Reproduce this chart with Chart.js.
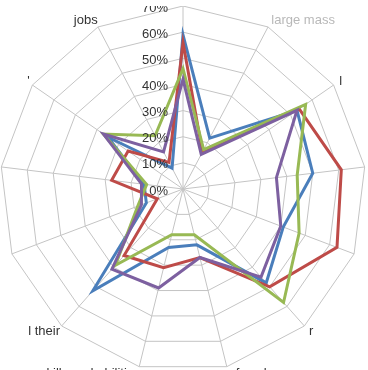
<!DOCTYPE html>
<html><head><meta charset="utf-8">
<script src="https://cdn.jsdelivr.net/npm/chart.js@4/dist/chart.umd.min.js"></script>
<style>
html,body{margin:0;padding:0;background:#fff;overflow:hidden;width:368px;height:370px}
#wrap{position:absolute;left:0;top:6px;width:366px;height:366px}
</style></head><body>
<div id="wrap"><canvas id="c"></canvas></div>
<script>
const categories = ["", "large mass", "l", "", "", "r", "of work", "skills and abilities", "l their", "", "", "'", "jobs"];
const tickLabels = ["0%", "10%", "20%", "30%", "40%", "50%", "60%", "70%"];
const seriesBlue   = [59, 22, 53, 50, 41, 48, 22, 23, 52, 15, 15, 35, 9];
const seriesRed    = [56, 16, 54, 61, 63, 50, 27, 31, 34, 10.5, 27.5, 25.5, 11.5];
const seriesGreen  = [46, 17, 57, 44, 47.5, 58, 18, 18, 39, 18.5, 14, 37, 23];
const seriesPurple = [42, 15, 53, 36, 40, 45, 27, 39, 41, 17, 16, 37, 16];

const textPlugin = {
  id: 'textPlugin',
  afterDatasetsDraw(chart) {
    const s = chart.scales.r;
    const ctx = chart.ctx;
    ctx.save();
    ctx.font = '13px "Liberation Sans", Arial, sans-serif';
    ctx.fillStyle = '#333';
    ctx.textBaseline = 'middle';
    ctx.textAlign = 'right';
    s.ticks.forEach((t, i) => {
      const d = s.getDistanceFromCenterForValue(t.value);
      ctx.fillText(tickLabels[i], s.xCenter - 15, s.yCenter - d + 2);
    });
    chart.data.labels.forEach((lab, i) => {
      if (!lab) return;
      const q = s.getPointPosition(i, s.drawingArea + 7);
      const sx = Math.sin(i * 2 * Math.PI / chart.data.labels.length);
      ctx.textAlign = sx > 0.1 ? 'left' : (sx < -0.1 ? 'right' : 'center');
      ctx.fillStyle = i === 1 ? '#b8b8b8' : '#333';
      ctx.fillText(lab, q.x + (sx > 0.1 ? 0 : (sx < -0.1 ? 3 : 0)), q.y);
    });
    ctx.restore();
  }
};

new Chart(document.getElementById('c'), {
  type: 'radar',
  data: {
    labels: categories,
    datasets: [
      {label: 'S1', data: seriesBlue, borderColor: '#4A7EBB', order: 3},
      {label: 'S2', data: seriesRed, borderColor: '#BE4B48', order: 2},
      {label: 'S3', data: seriesGreen, borderColor: '#98B954', order: 1},
      {label: 'S4', data: seriesPurple, borderColor: '#7D60A0', order: 0}
    ]
  },
  options: {
    responsive: true, maintainAspectRatio: false, animation: false,
    layout: {padding: 0},
    plugins: {legend: {display: false}, tooltip: {enabled: false}},
    elements: {line: {borderWidth: 3, tension: 0, fill: false, borderJoinStyle: 'miter'}, point: {radius: 0, hoverRadius: 0}},
    scales: {
      r: {
        min: 0, max: 70,
        ticks: {stepSize: 10, display: false},
        grid: {color: '#c4c4c4', lineWidth: 1},
        angleLines: {color: '#c4c4c4', lineWidth: 1},
        pointLabels: {display: false}
      }
    }
  },
  plugins: [textPlugin]
});
</script>
</body></html>
